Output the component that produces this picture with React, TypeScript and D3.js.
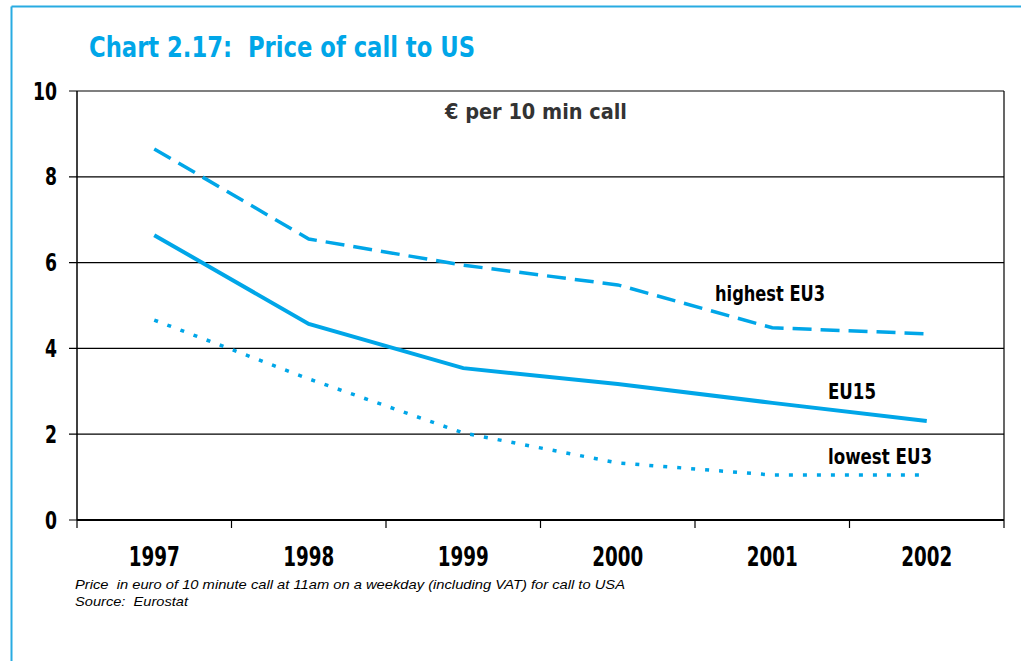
import React from "react";
import * as d3 from "d3";

const years = ["1997", "1998", "1999", "2000", "2001", "2002"];
const highestEU3 = [8.65, 6.55, 5.94, 5.48, 4.48, 4.34];
const eu15 = [6.64, 4.57, 3.54, 3.17, 2.73, 2.31];
const lowestEU3 = [4.66, 3.29, 2.03, 1.33, 1.05, 1.05];
const yTicks = [0, 2, 4, 6, 8, 10];

const W = 1021;
const H = 661;
const left = 77;
const right = 1004;
const top = 91;
const bottom = 520;
const blue = "#00a6e8";
const font = "'DejaVu Sans Condensed', 'Liberation Sans Narrow', sans-serif";
const noteFont = "'Liberation Sans', Arial, sans-serif";
const pre = { whiteSpace: "pre" as const };

export default function App() {
  const x = d3.scaleBand<string>().domain(years).range([left, right]).padding(0);
  const y = d3.scaleLinear().domain([0, 10]).range([bottom, top]);
  const cx = (yr: string) => (x(yr) as number) + x.bandwidth() / 2;
  const line = d3
    .line<number>()
    .x((_, i) => cx(years[i]))
    .y((d) => y(d));

  const bandEdges = years.map((yr) => x(yr) as number).concat([right]);

  return (
    <svg width={W} height={H} style={{ position: "absolute", left: 0, top: 0, background: "#fff" }}>
      {/* frame */}
      <line x1={11.5} y1={6.5} x2={W} y2={6.5} stroke="#29abe2" strokeWidth={2} />
      <line x1={11.5} y1={6.5} x2={11.5} y2={H} stroke="#29abe2" strokeWidth={2} />

      <text x={89} y={57} fill={blue} fontFamily={font} fontWeight="bold" fontSize={28} textLength={386} lengthAdjust="spacingAndGlyphs" style={pre}>
        {"Chart 2.17:  Price of call to US"}
      </text>

      {/* gridlines */}
      {yTicks.map((t) => (
        <line key={"g" + t} x1={left - 8} x2={right} y1={y(t)} y2={y(t)} stroke="#000" strokeWidth={1.2} />
      ))}
      {/* plot border */}
      <line x1={left} x2={left} y1={top} y2={bottom} stroke="#000" strokeWidth={1.5} />
      <line x1={right} x2={right} y1={top} y2={bottom} stroke="#000" strokeWidth={1.2} />
      <line x1={left} x2={right} y1={bottom} y2={bottom} stroke="#000" strokeWidth={1.8} />
      {/* x ticks */}
      {bandEdges.map((e, i) => (
        <line key={"xt" + i} x1={e} x2={e} y1={bottom} y2={bottom + 8} stroke="#000" strokeWidth={1.2} />
      ))}

      {/* y labels */}
      {yTicks.map((t) => (
        <text key={"yl" + t} x={57} y={y(t)} dy="0.36em" textAnchor="end" fontFamily={font} fontWeight="bold" fontSize={24} fill="#000" textLength={String(t).length * 12} lengthAdjust="spacingAndGlyphs">
          {t}
        </text>
      ))}
      {/* x labels */}
      {years.map((yr) => (
        <text key={"xl" + yr} x={cx(yr)} y={566} textAnchor="middle" fontFamily={font} fontWeight="bold" fontSize={27} fill="#000" textLength={51} lengthAdjust="spacingAndGlyphs">
          {yr}
        </text>
      ))}

      {/* series */}
      <path d={line(highestEU3) || ""} fill="none" stroke={blue} strokeWidth={3.5} strokeDasharray="19 9" />
      <path d={line(eu15) || ""} fill="none" stroke={blue} strokeWidth={4} />
      <path d={line(lowestEU3) || ""} fill="none" stroke={blue} strokeWidth={3.5} strokeDasharray="4 10" />

      {/* labels */}
      <text x={445} y={119} fontFamily={font} fontWeight="bold" fontSize={21} fill="#333" textLength={182} lengthAdjust="spacingAndGlyphs">
        € per 10 min call
      </text>
      <text x={715} y={301} fontFamily={font} fontWeight="bold" fontSize={21} fill="#000" textLength={110} lengthAdjust="spacingAndGlyphs">
        highest EU3
      </text>
      <text x={828} y={399} fontFamily={font} fontWeight="bold" fontSize={21} fill="#000" textLength={48} lengthAdjust="spacingAndGlyphs">
        EU15
      </text>
      <text x={828} y={464} fontFamily={font} fontWeight="bold" fontSize={21} fill="#000" textLength={104} lengthAdjust="spacingAndGlyphs">
        lowest EU3
      </text>

      {/* footnotes */}
      <text x={75} y={589} fontFamily={noteFont} fontStyle="italic" fontSize={13.5} fill="#000" textLength={550} lengthAdjust="spacingAndGlyphs" style={pre}>
        {"Price  in euro of 10 minute call at 11am on a weekday (including VAT) for call to USA"}
      </text>
      <text x={75} y={606} fontFamily={noteFont} fontStyle="italic" fontSize={13.5} fill="#000" textLength={113} lengthAdjust="spacingAndGlyphs" style={pre}>
        {"Source:  Eurostat"}
      </text>
    </svg>
  );
}
